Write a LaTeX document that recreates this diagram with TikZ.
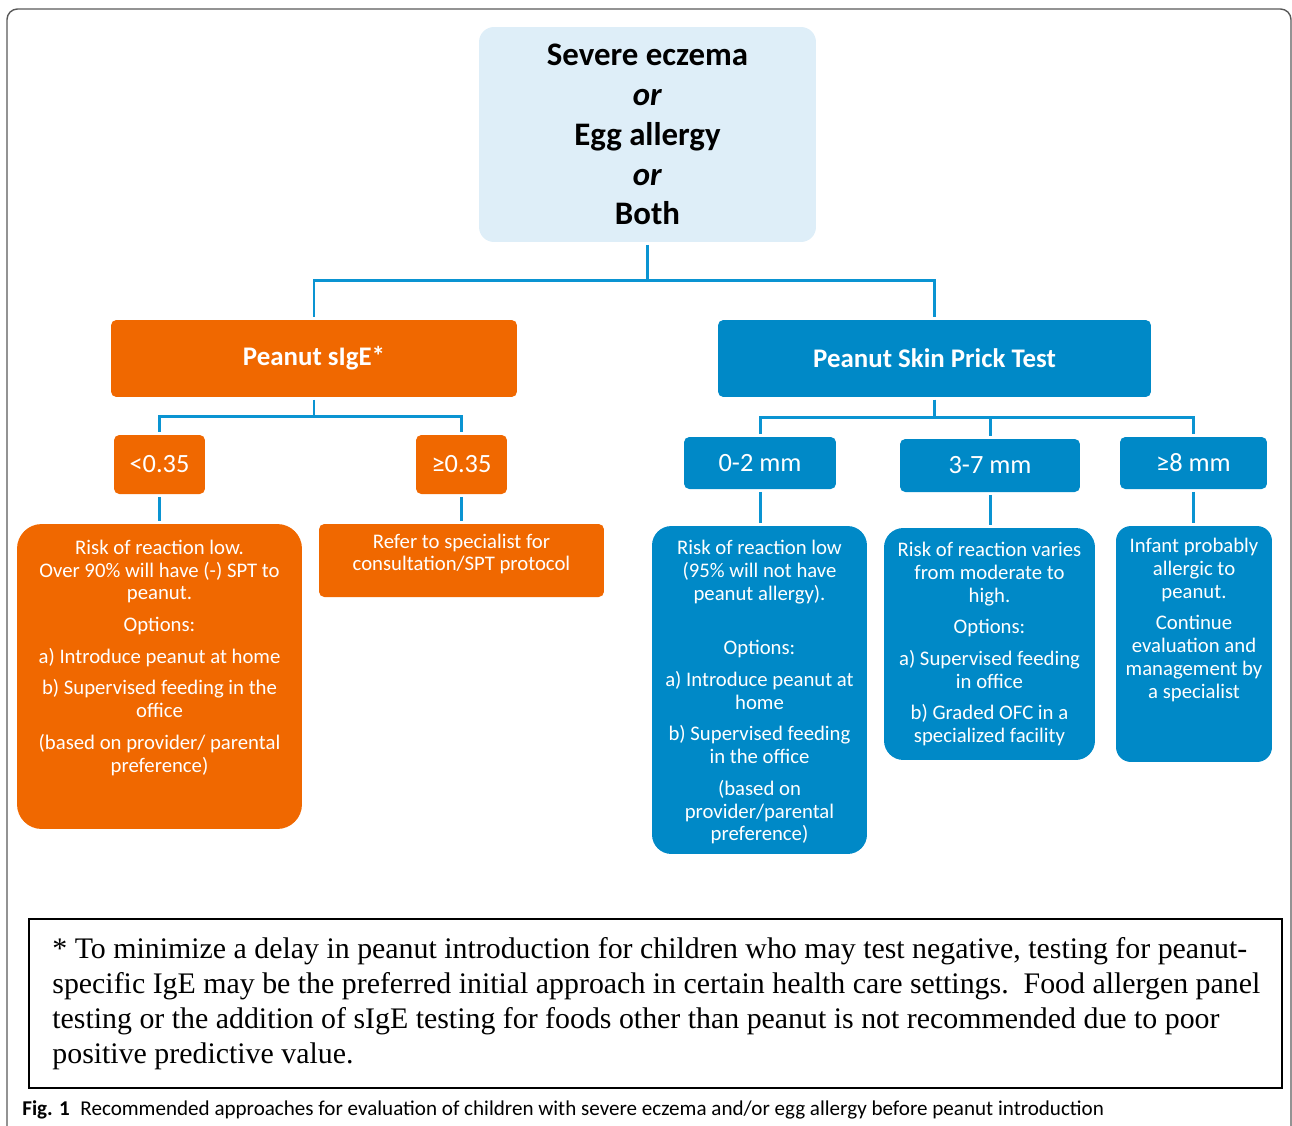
\documentclass[tikz,border=0pt]{standalone}
\usepackage{fontspec}
\setmainfont{Carlito}
\newfontfamily\notefont{Liberation Serif}
\usepackage{xcolor}
\usetikzlibrary{positioning}

\definecolor{peanutorange}{RGB}{240,104,0}
\definecolor{sptblue}{RGB}{0,137,199}
\definecolor{rootblue}{RGB}{222,238,248}
\definecolor{linkblue}{RGB}{10,148,210}

\begin{document}
\begin{tikzpicture}[
            x=0.02cm, y=-0.02cm,               % one unit = one pixel of the layout
            rootbox/.style={
                rectangle,
                fill=rootblue,
                rounded corners=8.5pt,
                inner sep=0pt,
                minimum width=6.74cm,
                minimum height=4.30cm,
                align=center,
                font=\fontsize{18.7}{22.7}\selectfont\bfseries
            },
            testbox/.style={
                rectangle,
                rounded corners=3pt,
                inner sep=0pt,
                minimum height=1.54cm,
                text=white,
                font=\fontsize{15.3}{18}\selectfont\bfseries
            },
            cutbox/.style={
                rectangle,
                rounded corners=3pt,
                inner sep=0pt,
                text=white,
                font=\fontsize{15}{18}\selectfont
            },
            infobox/.style={
                rectangle,
                inner sep=0pt
            },
            infotext/.style={
                anchor=north,
                inner sep=0pt,
                align=center,
                text=white,
                font=\fontsize{11.8}{13}\selectfont
            },
            link/.style={
                draw=linkblue,
                line width=1.7pt,
                shorten <=1.5pt,
                shorten >=1.5pt
            }
        ]
            \useasboundingbox (0,0) rectangle (1292,1126);

            % --- MARCO ---
            \draw[gray!70!black, line width=0.8pt, rounded corners=6pt] (7,1126) -- (7,9) -- (1291,9) -- (1291,1126);

            % --- NODOS ---
            \node [rootbox] (root) at (647.5,134.5) {Severe eczema\\\textit{or}\\Egg allergy\\\textit{or}\\Both};

            \node [testbox, fill=peanutorange, minimum width=8.12cm] (sige) at (314,358.5) {Peanut sIgE*};
            \node [testbox, fill=sptblue, minimum width=8.66cm] (spt) at (934.5,358.5) {Peanut Skin Prick Test};

            \node [cutbox, fill=peanutorange, minimum width=1.82cm, minimum height=1.18cm] (lo) at (159.5,464.5) {<0.35};
            \node [cutbox, fill=peanutorange, minimum width=1.82cm, minimum height=1.18cm] (hi) at (461.5,464.5) {≥0.35};
            \node [cutbox, fill=sptblue, minimum width=3.04cm, minimum height=1.04cm] (s02) at (760,463) {0-2 mm};
            \node [cutbox, fill=sptblue, minimum width=3.60cm, minimum height=1.06cm] (s37) at (990,465.5) {3-7 mm};
            \node [cutbox, fill=sptblue, minimum width=2.94cm, minimum height=1.04cm] (s8) at (1193.5,463) {≥8 mm};

            \node [infobox, fill=peanutorange, rounded corners=14pt, minimum width=5.70cm, minimum height=6.10cm] (dlo) at (159.5,676.5) {};
            \node [infobox, fill=peanutorange, rounded corners=3pt, minimum width=5.70cm, minimum height=1.46cm] (dhi) at (461.5,560.5) {};
            \node [infobox, fill=sptblue, rounded corners=11pt, minimum width=4.30cm, minimum height=6.56cm] (d02) at (759.5,690) {};
            \node [infobox, fill=sptblue, rounded corners=11pt, minimum width=4.22cm, minimum height=4.64cm] (d37) at (989.5,644) {};
            \node [infobox, fill=sptblue, rounded corners=8.5pt, minimum width=3.12cm, minimum height=4.72cm] (d8) at (1194,644) {};

            \node [infotext] (tlo) at ([yshift=-9pt]dlo.north) {Risk of reaction low.\\Over 90\% will have (-) SPT to\\peanut.\\[5pt]Options:\\[5pt]a) Introduce peanut at home\\[5pt]b) Supervised feeding in the\\office\\[5pt](based on provider/ parental\\preference)};
            \node [infotext] (thi) at ([yshift=-5.5pt]dhi.north) {Refer to specialist for\\consultation/SPT protocol};
            \node [infotext] (t02) at ([yshift=-8pt]d02.north) {Risk of reaction low\\(95\% will not have\\peanut allergy).\\~\\[5pt]Options:\\[5pt]a) Introduce peanut at\\home\\[5pt]b) Supervised feeding\\in the office\\[5pt](based on\\provider/parental\\preference)};
            \node [infotext] (t37) at ([yshift=-8pt]d37.north) {Risk of reaction varies\\from moderate to\\high.\\[5pt]Options:\\[5pt]a) Supervised feeding\\in office\\[5pt]b) Graded OFC in a\\specialized facility};
            \node [infotext] (t8) at ([yshift=-6.8pt]d8.north) {Infant probably\\allergic to\\peanut.\\[5pt]Continue\\evaluation and\\management by\\a specialist};

            % --- ENLACES ---
            \draw [link] (root.south) -- ++(0,38) -| (sige.north);
            \draw [link] (root.south) -- ++(0,38) -| (spt.north);

            \draw [link] (sige.south) -- ++(0,19) -| (lo.north);
            \draw [link] (sige.south) -- ++(0,19) -| (hi.north);
            \draw [link] (spt.south) -- ++(0,20) -| (s02.north);
            \draw [link] (spt.south) -- ++(0,20) -| (s37.north);
            \draw [link] (spt.south) -- ++(0,20) -| (s8.north);

            \draw [link] (lo.south) -- (lo.south |- dlo.north);
            \draw [link] (hi.south) -- (hi.south |- dhi.north);
            \draw [link] (s02.south) -- (s02.south |- d02.north);
            \draw [link] (s37.south) -- (s37.south |- d37.north);
            \draw [link] (s8.south) -- (s8.south |- d8.north);

            % --- NOTA Y PIE ---
            \node [draw=black, line width=1.1pt, inner sep=0pt, minimum width=25.06cm, minimum height=3.38cm] (notebox) at (655.5,1003.5) {};
            \node [anchor=north west, inner sep=0pt, align=left, font=\notefont\fontsize{17}{19.8}\selectfont] (note) at ([xshift=13.6pt, yshift=-11pt]notebox.north west) {* To minimize a delay in peanut introduction for children who may test negative, testing for peanut-\\specific IgE may be the preferred initial approach in certain health care settings.\ \ Food allergen panel\\testing or the addition of sIgE testing for foods other than peanut is not recommended due to poor\\positive predictive value.};

            \node [anchor=west, inner sep=0pt, font=\fontsize{12}{14}\selectfont] (caption) at (22,1110) {\textbf{Fig. 1}\hspace{6pt}Recommended approaches for evaluation of children with severe eczema and/or egg allergy before peanut introduction};
        \end{tikzpicture}
\end{document}
